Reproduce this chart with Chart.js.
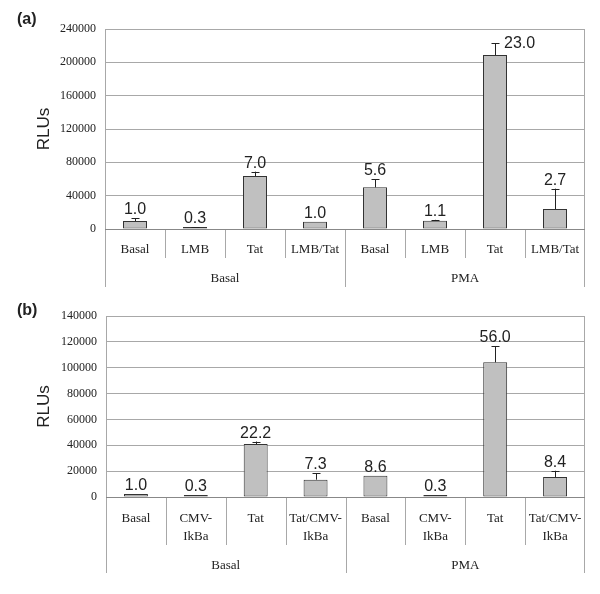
<!DOCTYPE html>
<html>
<head>
<meta charset="utf-8">
<script src="https://cdn.jsdelivr.net/npm/chart.js@4"></script>
<style>
    body { margin: 0; background: #fff; }
    .panel { position: relative; width: 600px; height: 297px; }
</style>
</head>
<body>
<div class="panel"><canvas id="chart-a" width="600" height="297"></canvas></div>
<div class="panel"><canvas id="chart-b" width="600" height="297"></canvas></div>
<script>
// panel (a)
const categoriesA = ['Basal', 'LMB', 'Tat', 'LMB/Tat', 'Basal', 'LMB', 'Tat', 'LMB/Tat'];
const groupsA = ['Basal', 'PMA'];
const valuesA = [9600, 1600, 63600, 8800, 50000, 10000, 208800, 24000];
const errorsA = [3200, 800, 5200, 0, 9600, 1000, 14000, 24400];
const foldA = ['1.0', '0.3', '7.0', '1.0', '5.6', '1.1', '23.0', '2.7'];
const ticksA = [0, 40000, 80000, 120000, 160000, 200000, 240000];

// panel (b)
const categoriesB = ['Basal', ['CMV-', 'IkBa'], 'Tat', ['Tat/CMV-', 'IkBa'], 'Basal', ['CMV-', 'IkBa'], 'Tat', ['Tat/CMV-', 'IkBa']];
const groupsB = ['Basal', 'PMA'];
const valuesB = [2300, 700, 40900, 13400, 16500, 700, 104200, 15400];
const errorsB = [0, 0, 2000, 4900, 0, 0, 12600, 4900];
const foldB = ['1.0', '0.3', '22.2', '7.3', '8.6', '0.3', '56.0', '8.4'];
const ticksB = [0, 20000, 40000, 60000, 80000, 100000, 120000, 140000];

const gridColor = '#a8a8a8';
const textColor = '#222';

// error bars, fold labels, two-level x axis, panel letter and axis title
const panelDecor = {
    id: 'panelDecor',
    afterDatasetsDraw(chart, args, opts) {
        const ctx = chart.ctx;
        const area = chart.chartArea;
        const xs = chart.scales.x;
        const ys = chart.scales.y;
        const meta = chart.getDatasetMeta(0);

        ctx.save();
        // frame of the plot area
        ctx.strokeStyle = gridColor;
        ctx.lineWidth = 1;
        ctx.beginPath();
        ctx.moveTo(area.left + 0.5, area.bottom);
        ctx.lineTo(area.left + 0.5, area.top + 0.5);
        ctx.lineTo(area.right - 0.5, area.top + 0.5);
        ctx.lineTo(area.right - 0.5, area.bottom);
        ctx.stroke();

        // error bars
        ctx.strokeStyle = '#222';
        meta.data.forEach((bar, i) => {
            const err = opts.errors[i];
            if (!err) return;
            const x = Math.round(bar.x) + 0.5;
            const yTop = ys.getPixelForValue(opts.values[i] + err);
            ctx.beginPath();
            ctx.moveTo(x, bar.y);
            ctx.lineTo(x, yTop);
            ctx.moveTo(x - 4, Math.round(yTop) + 0.5);
            ctx.lineTo(x + 4, Math.round(yTop) + 0.5);
            ctx.stroke();
        });

        // fold-change labels
        ctx.fillStyle = textColor;
        ctx.font = '16px "Liberation Sans", Arial, sans-serif';
        meta.data.forEach((bar, i) => {
            const yTop = Math.min(bar.y, ys.getPixelForValue(opts.values[i] + opts.errors[i]));
            let y = yTop - 4;
            if (y - 13 < area.top) {
                ctx.textAlign = 'left';
                ctx.textBaseline = 'middle';
                ctx.fillText(opts.labels[i], bar.x + 9, yTop);
            } else {
                ctx.textAlign = 'center';
                ctx.textBaseline = 'alphabetic';
                ctx.fillText(opts.labels[i], bar.x, y);
            }
        });

        // category axis
        const n = opts.categories.length;
        const half = (xs.getPixelForValue(1) - xs.getPixelForValue(0)) / 2;
        ctx.strokeStyle = gridColor;
        ctx.beginPath();
        for (let i = 1; i < n; i++) {
            const x = Math.round(xs.getPixelForValue(i) - half) + 0.5;
            if (i === n / 2) continue;
            ctx.moveTo(x, area.bottom);
            ctx.lineTo(x, area.bottom + opts.catLine);
        }
        [area.left + 0.5, Math.round(xs.getPixelForValue(n / 2) - half) + 0.5, area.right - 0.5].forEach(x => {
            ctx.moveTo(x, area.bottom);
            ctx.lineTo(x, area.bottom + opts.groupLine);
        });
        ctx.stroke();

        ctx.strokeStyle = '#888';
        ctx.beginPath();
        ctx.moveTo(area.left, area.bottom + 0.5);
        ctx.lineTo(area.right, area.bottom + 0.5);
        ctx.stroke();

        ctx.font = '13px "Liberation Serif", "Times New Roman", serif';
        ctx.textAlign = 'center';
        ctx.textBaseline = 'middle';
        opts.categories.forEach((c, i) => {
            const lines = Array.isArray(c) ? c : [c];
            lines.forEach((t, k) => {
                ctx.fillText(t, xs.getPixelForValue(i), area.bottom + opts.catText + k * 18);
            });
        });
        opts.groups.forEach((g, k) => {
            const x = (xs.getPixelForValue(k * n / 2) + xs.getPixelForValue(k * n / 2 + n / 2 - 1)) / 2;
            ctx.fillText(g, x, area.bottom + opts.groupText);
        });

        // panel letter and y title
        ctx.font = 'bold 16px "Liberation Sans", Arial, sans-serif';
        ctx.textAlign = 'left';
        ctx.fillText(opts.letter, 17, opts.letterY);

        ctx.font = '17px "Liberation Sans", Arial, sans-serif';
        ctx.translate(44, (area.top + area.bottom) / 2);
        ctx.rotate(-Math.PI / 2);
        ctx.textAlign = 'center';
        ctx.fillText('RLUs', 0, 0);
        ctx.restore();
    }
};

function makeChart(id, cats, values, errors, labels, groups, ticks, axisWidth, padding, decor) {
    return new Chart(document.getElementById(id), {
        type: 'bar',
        data: {
            labels: cats.map((c, i) => i),
            datasets: [{
                data: values,
                backgroundColor: '#c0c0c0',
                borderColor: '#333',
                borderWidth: 1,
                borderSkipped: false,
                minBarLength: 2,
                categoryPercentage: 1,
                barPercentage: 0.4
            }]
        },
        options: {
            responsive: false,
            animation: false,
            events: [],
            layout: { padding: padding },
            plugins: {
                legend: { display: false },
                tooltip: { enabled: false },
                panelDecor: Object.assign({ categories: cats, groups: groups, values: values, errors: errors, labels: labels }, decor)
            },
            scales: {
                x: { display: false },
                y: {
                    min: ticks[0],
                    max: ticks[ticks.length - 1],
                    afterBuildTicks: s => { s.ticks = ticks.map(v => ({ value: v })); },
                    afterFit: s => { s.width = axisWidth; },
                    border: { display: false },
                    grid: { color: gridColor, drawTicks: false },
                    ticks: {
                        padding: 9,
                        color: textColor,
                        callback: v => String(v),
                        font: { family: '"Liberation Serif", "Times New Roman", serif', size: 12 }
                    }
                }
            }
        },
        plugins: [panelDecor]
    });
}

makeChart('chart-a', categoriesA, valuesA, errorsA, foldA, groupsA, ticksA, 105,
    { left: 0, top: 29, right: 15, bottom: 68 },
    { letter: '(a)', letterY: 20, catLine: 29, groupLine: 58, catText: 21, groupText: 50 });

makeChart('chart-b', categoriesB, valuesB, errorsB, foldB, groupsB, ticksB, 106,
    { left: 0, top: 19, right: 15, bottom: 97 },
    { letter: '(b)', letterY: 14, catLine: 48, groupLine: 76, catText: 22, groupText: 69 });
</script>
</body>
</html>
